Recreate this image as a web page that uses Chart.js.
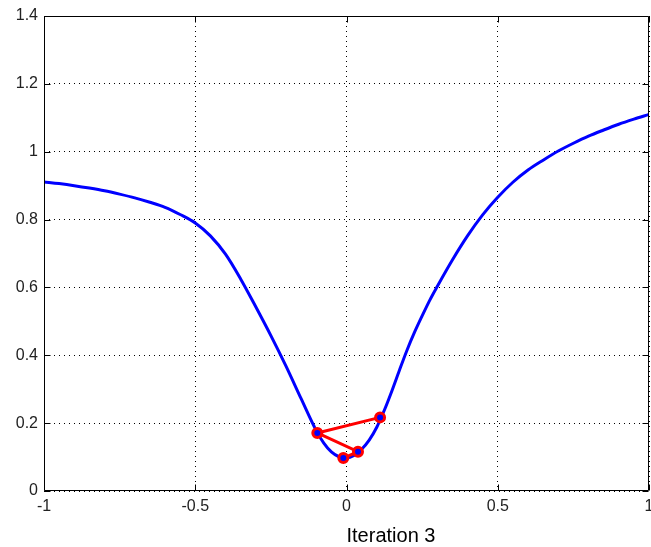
<!DOCTYPE html>
<html>
<head>
<meta charset="utf-8">
<script src="https://cdn.jsdelivr.net/npm/chart.js@4/dist/chart.umd.min.js"></script>
<style>
html,body{margin:0;padding:0;background:#fff;}
canvas{display:block;}
</style>
</head>
<body>
<canvas id="c" width="651" height="547"></canvas>
<script>
// Blue curve samples
const curveX = [-1, -0.95, -0.9, -0.85, -0.8, -0.75, -0.7, -0.65, -0.6, -0.55, -0.5, -0.45, -0.4, -0.35, -0.3, -0.25, -0.2, -0.15, -0.1, -0.075, -0.05, -0.025, 0, 0.025, 0.05, 0.075, 0.1, 0.125, 0.15, 0.175, 0.2, 0.225, 0.25, 0.275, 0.3, 0.35, 0.4, 0.45, 0.5, 0.55, 0.6, 0.65, 0.7, 0.75, 0.8, 0.85, 0.9, 0.95, 1];
const curveY = [0.911, 0.906, 0.900, 0.893, 0.885, 0.875, 0.864, 0.851, 0.836, 0.815, 0.790, 0.752, 0.698, 0.625, 0.543, 0.458, 0.368, 0.272, 0.178, 0.141, 0.115, 0.101, 0.098, 0.105, 0.123, 0.150, 0.188, 0.238, 0.295, 0.356, 0.415, 0.468, 0.516, 0.562, 0.603, 0.681, 0.752, 0.814, 0.866, 0.910, 0.946, 0.975, 1.002, 1.025, 1.046, 1.064, 1.081, 1.096, 1.110];
// Red iteration path
const pathX = [0.111, -0.0965, 0.038, -0.0105];
const pathY = [0.217, 0.171, 0.116, 0.097];
// Tick labels
const xTicks = [-1, -0.5, 0, 0.5, 1];
const yTicks = [0, 0.2, 0.4, 0.6, 0.8, 1, 1.2, 1.4];
const xTitle = 'Iteration 3';

const FONT = '"Liberation Sans", Arial, sans-serif';

const framePlugin = {
  id: 'frame',
  afterDraw(chart) {
    const {ctx, chartArea: a, scales} = chart;
    ctx.save();
    ctx.strokeStyle = '#000';
    ctx.lineWidth = 1;
    ctx.setLineDash([]);
    const L = Math.round(a.left) + 0.5, R = Math.round(a.right) - 0.5;
    const T = Math.round(a.top) + 0.5, B = Math.round(a.bottom) - 0.5;
    ctx.beginPath();
    ctx.rect(L, T, R - L, B - T);
    ctx.stroke();
    const tl = 6;
    ctx.beginPath();
    yTicks.forEach(v => {
      const y = Math.round(scales.y.getPixelForValue(v)) + 0.5;
      ctx.moveTo(L, y); ctx.lineTo(L + tl, y);
      ctx.moveTo(R, y); ctx.lineTo(R - tl, y);
    });
    xTicks.forEach(v => {
      const x = Math.round(scales.x.getPixelForValue(v)) + 0.5;
      ctx.moveTo(x, B); ctx.lineTo(x, B - tl);
      ctx.moveTo(x, T); ctx.lineTo(x, T + tl);
    });
    ctx.stroke();
    // axis label (placed as in the reference, starting just right of x = 0)
    ctx.fillStyle = '#000';
    ctx.font = '20px ' + FONT;
    ctx.textAlign = 'left';
    ctx.textBaseline = 'alphabetic';
    ctx.fillText(xTitle, scales.x.getPixelForValue(0), 542);
    ctx.restore();
  }
};

new Chart(document.getElementById('c'), {
  type: 'scatter',
  data: {
    datasets: [
      {
        data: curveX.map((x, i) => ({x, y: curveY[i]})),
        showLine: true,
        borderColor: '#0000ff',
        borderWidth: 3,
        pointRadius: 0,
        cubicInterpolationMode: 'monotone',
        order: 2
      },
      {
        data: pathX.map((x, i) => ({x, y: pathY[i]})),
        showLine: true,
        borderColor: '#ff0000',
        borderWidth: 3,
        pointRadius: 4.5,
        pointBackgroundColor: '#0000ff',
        pointBorderColor: '#ff0000',
        pointBorderWidth: 3,
        tension: 0,
        order: 1
      }
    ]
  },
  options: {
    responsive: false,
    animation: false,
    devicePixelRatio: 1,
    layout: { autoPadding: false, padding: { top: 16, right: 2, left: 0, bottom: 0 } },
    plugins: { legend: { display: false }, tooltip: { enabled: false } },
    scales: {
      x: {
        type: 'linear',
        min: -1, max: 1,
        afterBuildTicks: s => { s.ticks = xTicks.map(v => ({value: v})); },
        afterFit: s => { s.height = 56; s.paddingLeft = 0; s.paddingRight = 0; },
        ticks: {
          callback: v => String(v),
          font: { family: FONT, size: 16 },
          color: '#222',
          padding: 6,
          maxRotation: 0,
          autoSkip: false
        },
        grid: { color: '#000', lineWidth: 1, drawTicks: false },
        border: { display: false, dash: [1, 4] }
      },
      y: {
        type: 'linear',
        min: 0, max: 1.4,
        afterBuildTicks: s => { s.ticks = yTicks.map(v => ({value: v})); },
        afterFit: s => { s.width = 44; s.paddingTop = 0; s.paddingBottom = 0; },
        ticks: {
          callback: v => String(Math.round(v * 10) / 10),
          font: { family: FONT, size: 16 },
          color: '#222',
          padding: 6
        },
        grid: { color: '#000', lineWidth: 1, drawTicks: false },
        border: { display: false, dash: [1, 4] }
      }
    }
  },
  plugins: [framePlugin]
});
</script>
</body>
</html>
